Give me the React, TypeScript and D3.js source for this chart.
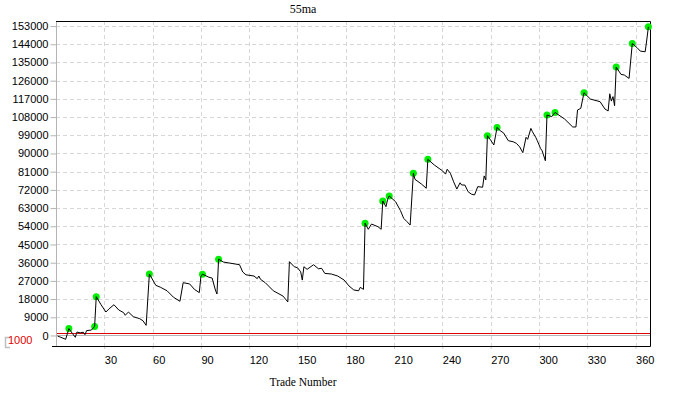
import React, { useEffect, useRef } from 'react';
import * as d3 from 'd3';

// equity curve (trade number / account value)
const trades = [
    1, 3, 6, 8, 10, 12, 13, 15, 17, 18, 19, 22, 24, 25, 28, 31, 33, 36, 39, 42, 43, 45, 48, 52, 54, 56,
    58, 62, 65, 69, 73, 77, 79, 83, 86, 89, 90, 91, 95, 97, 99, 100, 101, 104, 114, 116, 118, 123, 125,
    126, 127, 130, 135, 141, 144, 145, 148, 150, 152, 153, 154, 156, 160, 163, 165, 167, 171, 175, 179,
    182, 185, 188, 189, 191, 192, 194, 196, 200, 202, 203, 205, 206, 207, 211, 214, 216, 218, 220, 222,
    223, 227, 230, 231, 235, 238, 240, 242, 243, 245, 247, 249, 251, 252, 254, 256, 258, 260, 262, 265,
    266, 267, 268, 270, 272, 274, 276, 278, 281, 284, 286, 288, 290, 292, 293, 295, 296, 298, 299, 301,
    302, 304, 305, 308, 310, 316, 321, 323, 324, 326, 328, 332, 338, 341, 343, 344, 345, 346, 347, 348,
    351, 353, 356, 358, 361, 363, 366, 367, 368,
];
const equity = [
    -300, -900, -1900, 3400, 1200, -900, 1700, 1300, 1600, 400, 2400, 2700, 4500, 19200, 15200, 11600,
    13200, 15200, 12600, 11300, 10000, 11600, 9300, 8300, 7300, 5000,
    30400, 24800, 23800, 22100, 18900, 16900, 26100, 25500, 22800, 21200, 29100, 30300, 28800, 28400,
    22500, 20500, 37700, 36300, 35000, 31400, 30000, 29400, 28100,
    29400, 27800, 26100, 22100, 19500, 16600, 36500, 34000, 33500, 31500, 27400, 34000, 32700, 35000,
    33000, 33200, 30700, 30400, 29400, 27400,
    24500, 22500, 22100, 23800, 22800, 55500, 52500, 55100, 53800, 52500, 66500, 63700, 67300, 69000,
    66100, 61700, 57900, 56300, 54600, 80200,
    77200, 74900, 72800, 87100, 84300, 82600, 81500, 79800, 82200, 80200, 76000, 72400, 75500, 74400,
    74400, 71100, 69900, 69500, 73600, 73300,
    78900, 76900, 98800, 96600, 94200, 102900, 101200, 100200, 96300, 95800, 95000, 93300, 90400, 98000,
    97000, 102400, 100700, 98000, 96300, 92500,
    91300, 86400, 109000, 108200, 110300, 107000, 103100, 103100, 111500, 112300, 120000, 116900, 115600,
    112000, 111000, 119500, 115900, 118100, 113600, 132700,
    129100, 128800, 127100, 144400, 142300, 140600, 140300, 146100, 152600,
];
const markerTrades = [8, 24, 25, 58, 91, 101, 192, 203, 207, 222, 231, 268, 274, 305, 310, 328, 348, 358, 368];

const yTicks = [0, 9000, 18000, 27000, 36000, 45000, 54000, 63000, 72000, 81000, 90000, 99000, 108000,
    117000, 126000, 135000, 144000, 153000];
const xTicks = [30, 60, 90, 120, 150, 180, 210, 240, 270, 300, 330, 360];
const startingCapital = 1000;
const title = '55ma';
const xTitle = 'Trade Number';

const width = 680;
const height = 397;
const margins = { top: 21, right: 30, bottom: 51, left: 56 };
const tickFont = '"Liberation Sans", Arial, sans-serif';
const titleFont = '"Liberation Serif", "Times New Roman", serif';

export default function App() {
    const svgRef = useRef<SVGSVGElement>(null);

    useEffect(() => {
        const svg = d3.select(svgRef.current);
        svg.selectAll('*').remove();

        const left = margins.left;
        const right = width - margins.right;
        const top = margins.top;
        const bottom = height - margins.bottom;

        const x = d3.scaleLinear().domain([0, 369]).range([left, right]);
        const y = d3.scaleLinear().domain([-5200, 155500]).range([bottom, top]);
        const px = (v: number) => Math.round(v) + 0.5;

        // dashed grid
        const grid = svg.append('g').attr('stroke', '#d6d6d6').attr('stroke-dasharray', '4,3');
        grid.selectAll('line.h')
            .data(yTicks.filter(d => d > 0))
            .enter().append('line')
            .attr('x1', left).attr('x2', right)
            .attr('y1', d => px(y(d))).attr('y2', d => px(y(d)));
        grid.selectAll('line.v')
            .data(xTicks)
            .enter().append('line')
            .attr('y1', top).attr('y2', bottom)
            .attr('x1', d => px(x(d))).attr('x2', d => px(x(d)));

        // zero line and starting capital line
        svg.append('line')
            .attr('x1', left).attr('x2', right)
            .attr('y1', px(y(0))).attr('y2', px(y(0)))
            .attr('stroke', '#b4b4b4');
        svg.append('line')
            .attr('x1', left).attr('x2', right)
            .attr('y1', px(y(startingCapital))).attr('y2', px(y(startingCapital)))
            .attr('stroke', '#e00000');

        // y axis
        const yAxis = d3.axisLeft(y).tickValues(yTicks).tickSize(6).tickPadding(2).tickFormat(d3.format('d'));
        svg.append('g')
            .attr('transform', `translate(${left + 0.5},0)`)
            .call(yAxis)
            .call(g => g.select('.domain').remove())
            .call(g => g.selectAll('line').attr('stroke', '#b4b4b4'))
            .call(g => g.selectAll('text')
                .attr('font-family', tickFont).attr('font-size', 11).attr('fill', '#000'));
        svg.append('line')
            .attr('x1', left + 0.5).attr('x2', left + 0.5)
            .attr('y1', top).attr('y2', bottom)
            .attr('stroke', '#b4b4b4');

        // x axis, labels start at the tick
        const xAxis = d3.axisBottom(x).tickValues(xTicks).tickSize(3).tickPadding(7);
        svg.append('g')
            .attr('transform', `translate(0,${bottom})`)
            .call(xAxis)
            .call(g => g.select('.domain').remove())
            .call(g => g.selectAll('line').attr('stroke', '#c8c8c8'))
            .call(g => g.selectAll('text')
                .attr('text-anchor', 'start')
                .attr('font-family', tickFont).attr('font-size', 11).attr('fill', '#000'));

        // frame
        svg.append('path')
            .attr('d', `M${left},${top + 0.5}H${right + 0.5}V${bottom + 0.5}H${left - 4}`)
            .attr('fill', 'none')
            .attr('stroke', '#000');

        // starting capital label
        svg.append('path')
            .attr('d', `M10,${bottom - 8.5}H5.5V${bottom + 1.5}H10`)
            .attr('fill', 'none')
            .attr('stroke', '#c0c0c0')
            .attr('stroke-width', 1.5);
        svg.append('text')
            .attr('x', 8).attr('y', bottom - 2)
            .attr('font-family', tickFont).attr('font-size', 11)
            .attr('fill', '#e00000')
            .text(startingCapital);

        // markers
        const points = trades.map((t, i) => ({ trade: t, value: equity[i] }));
        svg.append('g')
            .selectAll('circle')
            .data(points.filter(d => markerTrades.includes(d.trade)))
            .enter().append('circle')
            .attr('cx', d => x(d.trade))
            .attr('cy', d => y(d.value))
            .attr('r', 3.5)
            .attr('fill', '#00ee00');

        // equity line
        const line = d3.line<{ trade: number; value: number }>()
            .x(d => x(d.trade))
            .y(d => y(d.value));
        svg.append('path')
            .datum(points)
            .attr('d', line)
            .attr('fill', 'none')
            .attr('stroke', '#000')
            .attr('stroke-width', 1);

        // titles
        svg.append('text')
            .attr('x', 303).attr('y', 13)
            .attr('text-anchor', 'middle')
            .attr('font-family', titleFont).attr('font-size', 12)
            .text(title);
        svg.append('text')
            .attr('x', 303).attr('y', 386)
            .attr('text-anchor', 'middle')
            .attr('font-family', titleFont).attr('font-size', 11.5)
            .text(xTitle);
    }, []);

    return (
        <div style={{ position: 'absolute', left: 0, top: 0 }}>
            <svg ref={svgRef} width={width} height={height} style={{ display: 'block', background: '#fff' }} />
        </div>
    );
}
